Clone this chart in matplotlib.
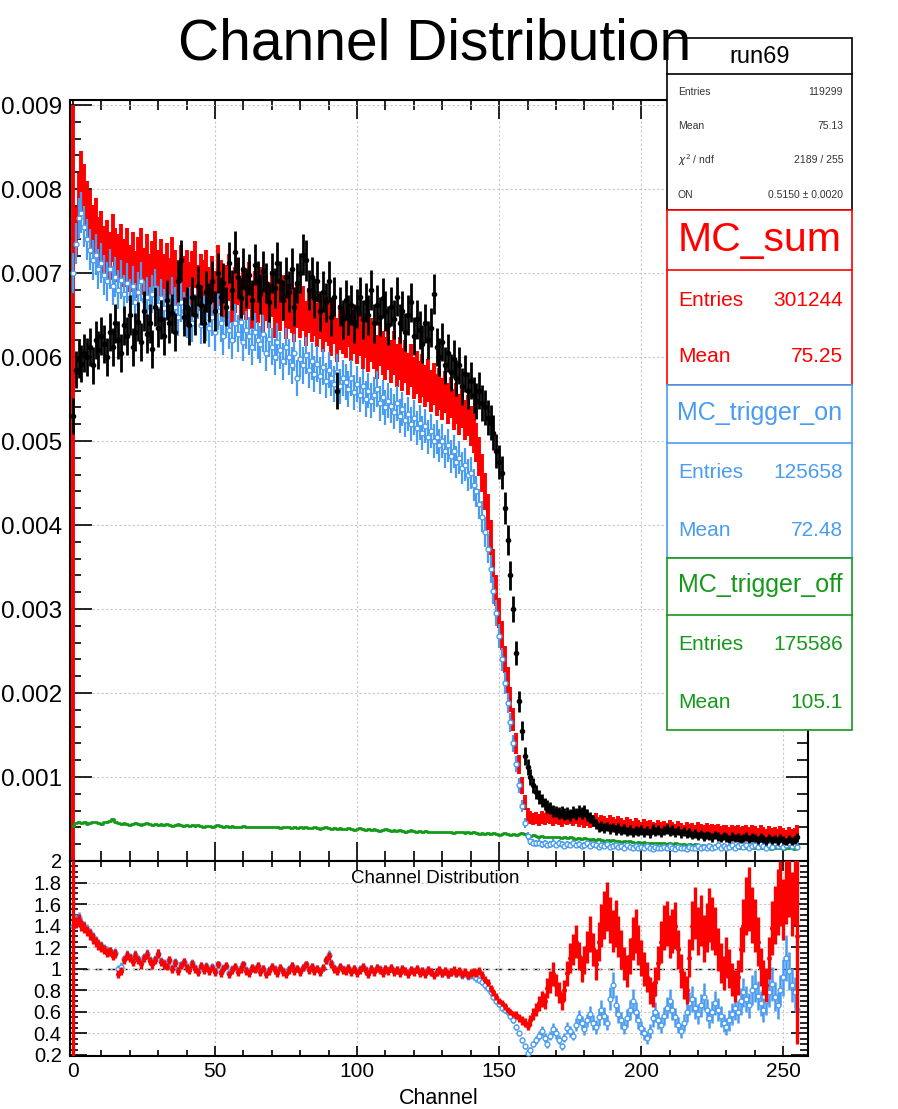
import numpy as np
import matplotlib.pyplot as plt
from matplotlib.patches import Rectangle
from matplotlib.lines import Line2D
from matplotlib.ticker import MultipleLocator, FixedLocator, FixedFormatter

plt.rcParams['font.family'] = ['Liberation Sans', 'DejaVu Sans']

# bin contents per channel (256 channels), normalised, units of 1e-5
data_vals = [
    530, 585, 598, 592, 605, 600, 612, 590, 620, 608, 625, 615, 600, 630, 612, 640,
    620, 605, 638, 625, 650, 612, 630, 642, 618, 655, 628, 640, 610, 660, 635, 645,
    625, 668, 640, 652, 630, 690, 715, 648, 660, 638, 672, 650, 685, 662, 640, 678,
    665, 690, 655, 700, 672, 688, 660, 712, 680, 725, 695, 670, 705, 682, 698, 668,
    710, 690, 675, 702, 688, 665, 700, 682, 712, 690, 668, 695, 678, 705, 660, 688,
    700, 722, 715, 680, 695, 670, 690, 655, 678, 665, 690, 648, 672, 560, 660, 645,
    668, 650, 662, 640, 658, 672, 645, 665, 650, 680, 640, 662, 648, 670, 655, 638,
    660, 645, 672, 640, 655, 630, 650, 665, 625, 645, 632, 615, 640, 620, 635, 675,
    612, 600, 618, 590, 605, 582, 598, 575, 590, 565, 580, 560, 572, 555, 548, 560,
    545, 540, 528, 522, 510, 488, 475, 462, 420, 382, 340, 300, 248, 190, 155, 125,
    112, 100, 90, 82, 76, 72, 68, 65, 63, 60, 59, 57, 58, 56, 57, 55,
    58, 56, 60, 57, 60, 55, 52, 48, 44, 40, 42, 39, 41, 38, 40, 37,
    39, 36, 38, 35, 37, 34, 36, 35, 37, 34, 36, 33, 38, 35, 37, 34,
    36, 38, 35, 37, 34, 36, 33, 35, 32, 34, 31, 33, 30, 32, 29, 31,
    30, 28, 31, 29, 27, 30, 28, 26, 29, 27, 28, 26, 27, 29, 26, 28,
    27, 25, 28, 26, 24, 27, 25, 26, 24, 27, 25, 23, 26, 24, 25, 28,
]
mc_sum_vals = [
    450, 750, 790, 815, 800, 780, 770, 752, 760, 738, 745, 728, 735, 720, 742, 725,
    718, 730, 712, 725, 705, 720, 698, 715, 725, 702, 718, 695, 710, 722, 700, 712,
    695, 708, 690, 715, 700, 688, 705, 692, 700, 685, 698, 710, 682, 695, 688, 700,
    680, 692, 675, 705, 688, 670, 682, 695, 668, 680, 690, 665, 678, 672, 685, 660,
    675, 668, 680, 655, 670, 662, 675, 650, 665, 658, 670, 648, 660, 655, 645, 662,
    650, 658, 640, 655, 645, 652, 638, 648, 632, 645, 640, 628, 642, 620, 635, 630,
    625, 638, 622, 630, 618, 628, 612, 625, 608, 620, 612, 600, 615, 605, 598, 610,
    595, 605, 590, 598, 585, 595, 580, 590, 575, 582, 570, 578, 565, 572, 560, 568,
    555, 562, 550, 558, 545, 552, 538, 545, 532, 540, 525, 530, 518, 510, 498, 482,
    462, 440, 415, 385, 352, 322, 295, 268, 240, 215, 192, 168, 140, 115, 90, 70,
    55, 52, 50, 51, 49, 52, 50, 53, 51, 49, 52, 50, 48, 51, 50, 52,
    49, 51, 48, 50, 47, 49, 46, 48, 50, 45, 47, 46, 44, 47, 45, 43,
    46, 44, 42, 45, 43, 41, 44, 42, 40, 43, 41, 42, 40, 39, 42, 40,
    41, 39, 42, 40, 38, 41, 39, 37, 40, 38, 39, 37, 40, 38, 36, 39,
    37, 38, 36, 38, 35, 37, 36, 34, 37, 35, 36, 34, 35, 37, 34, 36,
    35, 33, 36, 34, 32, 35, 33, 34, 32, 35, 33, 31, 34, 32, 33, 36,
]
mc_on_vals = [
    700, 735, 765, 772, 755, 740, 728, 715, 722, 705, 712, 698, 690, 705, 685, 695,
    680, 692, 675, 688, 670, 685, 665, 678, 690, 668, 672, 660, 675, 682, 662, 670,
    658, 668, 652, 672, 660, 648, 665, 655, 645, 660, 640, 652, 668, 638, 650, 642,
    635, 648, 630, 655, 640, 625, 645, 632, 620, 640, 628, 642, 618, 632, 625, 612,
    630, 620, 615, 628, 605, 622, 612, 600, 618, 608, 595, 612, 600, 590, 605, 575,
    598, 590, 602, 585, 595, 580, 592, 578, 588, 572, 585, 575, 568, 582, 565, 575,
    570, 562, 575, 558, 568, 555, 565, 550, 560, 548, 555, 562, 545, 552, 540, 548,
    542, 535, 545, 530, 538, 525, 532, 520, 528, 515, 522, 510, 518, 505, 512, 500,
    505, 495, 500, 488, 495, 482, 488, 475, 480, 468, 472, 460, 462, 448, 440, 425,
    410, 392, 372, 348, 322, 295, 268, 240, 212, 188, 165, 140, 115, 90, 65, 45,
    30, 24, 22, 21, 22, 20, 21, 19, 20, 22, 19, 21, 20, 18, 20, 19,
    21, 19, 20, 18, 19, 21, 18, 20, 19, 17, 19, 18, 20, 17, 18, 19,
    17, 18, 16, 19, 17, 15, 18, 16, 17, 15, 18, 16, 14, 17, 15, 16,
    17, 15, 18, 16, 14, 17, 15, 16, 14, 17, 15, 16, 18, 15, 17, 16,
    18, 16, 17, 19, 16, 18, 15, 17, 19, 16, 18, 20, 17, 19, 16, 18,
    19, 17, 20, 18, 16, 19, 17, 21, 18, 20, 17, 19, 21, 18, 20, 17,
]
mc_off_vals = [
    42, 45, 46, 45, 46, 44, 45, 47, 46, 45, 44, 46, 47, 48, 50, 47,
    45, 44, 45, 44, 43, 44, 45, 44, 43, 44, 45, 44, 43, 44, 43, 44,
    43, 44, 43, 42, 43, 44, 43, 42, 43, 42, 43, 42, 43, 42, 41, 42,
    42, 41, 42, 43, 42, 41, 42, 41, 42, 41, 40, 41, 42, 41, 40, 41,
    41, 40, 41, 40, 41, 40, 40, 41, 40, 39, 40, 41, 40, 39, 40, 39,
    40, 39, 40, 39, 39, 40, 39, 38, 39, 40, 39, 38, 39, 38, 39, 38,
    38, 39, 38, 37, 38, 39, 38, 37, 38, 37, 38, 37, 36, 37, 38, 37,
    36, 37, 36, 37, 36, 35, 36, 37, 36, 35, 36, 35, 36, 35, 34, 35,
    35, 34, 35, 34, 35, 34, 33, 34, 35, 34, 33, 34, 33, 34, 33, 32,
    33, 32, 33, 32, 33, 32, 31, 32, 33, 32, 31, 32, 31, 32, 33, 32,
    31, 30, 31, 30, 29, 30, 29, 28, 29, 28, 29, 28, 27, 28, 27, 28,
    27, 26, 27, 26, 27, 26, 25, 26, 25, 26, 25, 24, 25, 24, 25, 24,
    24, 23, 24, 23, 24, 23, 22, 23, 22, 23, 22, 21, 22, 21, 22, 21,
    21, 20, 21, 20, 21, 20, 19, 20, 19, 20, 19, 20, 19, 18, 19, 18,
    19, 18, 17, 18, 17, 18, 17, 16, 17, 16, 17, 16, 17, 16, 15, 16,
    16, 15, 16, 15, 16, 15, 14, 15, 16, 15, 14, 15, 16, 15, 14, 15,
]
# ratio panel, units of 0.01
ratio_sum_vals = [
    110, 143, 145, 140, 138, 135, 132, 128, 125, 122, 120, 118, 115, 116, 112, 114,
    95, 98, 108, 112, 110, 106, 112, 108, 104, 110, 113, 107, 104, 108, 114, 106,
    104, 102, 108, 100, 105, 98, 103, 106, 101, 99, 104, 100, 97, 103, 99, 102,
    98, 101, 97, 104, 96, 100, 103, 95, 99, 102, 97, 100, 104, 98, 96, 101,
    99, 103, 97, 100, 95, 98, 102, 99, 96, 101, 97, 95, 99, 103, 98, 100,
    97, 101, 104, 99, 102, 98, 100, 97, 101, 108, 112, 104, 100, 98, 102, 99,
    98, 101, 97, 100, 96, 99, 102, 98, 95, 100, 97, 101, 99, 96, 100, 98,
    101, 97, 99, 96, 100, 98, 95, 99, 97, 100, 96, 98, 95, 99, 97, 94,
    97, 99, 96, 98, 95, 97, 99, 96, 98, 95, 97, 94, 96, 97, 96, 98,
    94, 90, 87, 82, 78, 74, 70, 68, 65, 62, 60, 58, 57, 54, 52, 50,
    47, 52, 58, 62, 68, 72, 70, 82, 88, 95, 85, 78, 70, 80, 96, 110,
    118, 125, 112, 100, 108, 120, 132, 118, 104, 125, 140, 150, 158, 145, 135, 142,
    130, 118, 105, 98, 112, 128, 135, 122, 110, 100, 92, 80, 76, 88, 105, 125,
    138, 142, 130, 135, 140, 118, 98, 85, 80, 110, 140, 152, 135, 145, 128, 138,
    150, 142, 135, 118, 105, 96, 110, 100, 90, 84, 92, 118, 140, 158, 165, 150,
    140, 125, 102, 92, 85, 110, 138, 150, 162, 170, 155, 175, 180, 160, 172, 130,
]
ratio_on_vals = [
    140, 145, 147, 142, 139, 136, 133, 129, 126, 123, 121, 119, 117, 116, 114, 115,
    100, 102, 109, 113, 111, 108, 113, 109, 106, 111, 114, 108, 105, 109, 114, 107,
    105, 103, 108, 101, 106, 99, 104, 106, 102, 100, 105, 101, 98, 103, 100, 103,
    99, 102, 98, 104, 97, 101, 103, 96, 100, 102, 98, 101, 104, 99, 97, 101,
    100, 103, 98, 100, 96, 99, 102, 100, 97, 101, 98, 96, 100, 103, 99, 100,
    98, 101, 104, 100, 102, 99, 100, 98, 101, 108, 113, 105, 101, 99, 102, 100,
    99, 101, 98, 100, 97, 100, 102, 99, 96, 100, 98, 101, 100, 97, 100, 99,
    101, 98, 99, 97, 100, 98, 96, 99, 98, 100, 97, 98, 96, 99, 97, 95,
    97, 99, 96, 98, 95, 97, 98, 96, 97, 94, 96, 93, 94, 93, 91, 90,
    88, 85, 82, 78, 74, 70, 67, 64, 62, 60, 56, 52, 46, 40, 34, 28,
    22, 25, 30, 34, 38, 42, 36, 30, 38, 44, 40, 34, 28, 36, 45, 42,
    38, 48, 55, 50, 44, 52, 58, 50, 46, 55, 62, 56, 50, 72, 85, 66,
    58, 52, 46, 54, 62, 70, 60, 52, 45, 40, 36, 42, 54, 60, 52, 48,
    56, 64, 70, 62, 55, 48, 42, 50, 60, 68, 72, 64, 58, 66, 74, 62,
    54, 60, 68, 62, 56, 50, 46, 52, 58, 64, 60, 70, 78, 72, 66, 80,
    84, 75, 68, 62, 70, 78, 86, 74, 66, 80, 92, 110, 98, 85, 78, 62,
]

N_DATA = 119299
N_SUM = 301244
N_ON = 125658
N_OFF = 175586

RED = '#ff0000'
BLUE = '#4a9cf2'
GREEN = '#14991a'

for arr in (data_vals, mc_sum_vals, mc_on_vals, mc_off_vals, ratio_sum_vals, ratio_on_vals):
    assert len(arr) == 256

ch = np.arange(256)
data = np.array(data_vals) * 1e-5
mc_sum = np.array(mc_sum_vals) * 1e-5
mc_on = np.array(mc_on_vals) * 1e-5
mc_off = np.array(mc_off_vals) * 1e-5
r_sum = np.array(ratio_sum_vals) * 0.01
r_on = np.array(ratio_on_vals) * 0.01

# poisson-like errors
data_err = np.sqrt(data / N_DATA)
sum_err = np.sqrt(mc_sum / 90000)
sum_err[0] = mc_sum[0]
on_err = np.sqrt(mc_on / N_ON)
rel = 1 / np.sqrt(data * N_DATA)
r_sum_err = r_sum * rel
r_on_err = r_on * rel
r_sum_err[0] = 1.0
r_sum_err[-1] = 1.0

W, H = 898, 1109


def fx(x):
    return x / W


def fy(y):
    return 1 - y / H


fig = plt.figure(figsize=(W / 100, H / 100), dpi=100)
ax = fig.add_axes([fx(70), fy(861), fx(808) - fx(70), fy(100) - fy(861)])
rax = fig.add_axes([fx(70), fy(1056), fx(808) - fx(70), fy(861) - fy(1056)])

grid_kw = dict(color='#c8c8c8', lw=0.8, ls=(0, (2, 2)))

# ---- main panel
ax.errorbar(ch, mc_sum, yerr=sum_err, xerr=0.5, fmt='none', ecolor=RED, elinewidth=2.8, zorder=3)
ax.step(ch, mc_off, where='mid', color=GREEN, lw=2, zorder=4)
ax.errorbar(ch, mc_on, yerr=on_err, xerr=0.5, fmt='o', ms=3.5, mfc='white', mec=BLUE,
            mew=1, ecolor=BLUE, elinewidth=1.6, zorder=5)
ax.errorbar(ch, data, yerr=data_err, xerr=0.5, fmt='o', ms=3, color='black',
            elinewidth=2, zorder=6)

ax.set_xlim(-1, 258.7)
ax.set_ylim(0, 0.00906)
ax.xaxis.set_major_locator(MultipleLocator(50))
ax.xaxis.set_minor_locator(MultipleLocator(10))
ax.yaxis.set_major_locator(FixedLocator([0.001 * i for i in range(1, 10)]))
ax.yaxis.set_major_formatter(FixedFormatter(['0.%03d' % i for i in range(1, 10)]))
ax.yaxis.set_minor_locator(MultipleLocator(0.0002))
ax.tick_params(which='both', direction='in', top=True, right=True, labelbottom=False,
               labelsize=17.5, width=1.2, pad=6)
ax.tick_params(which='major', axis='y', length=16)
ax.tick_params(which='minor', axis='y', length=8)
ax.tick_params(which='major', axis='x', length=14)
ax.tick_params(which='minor', axis='x', length=7)
ax.grid(True, which='major', **grid_kw)
for s in ax.spines.values():
    s.set_linewidth(1.5)

# ---- ratio panel
rax.axhline(1, color='black', lw=1, ls=(0, (5, 4)), zorder=1)
rax.errorbar(ch, r_on, yerr=r_on_err, xerr=0.5, fmt='o', ms=3.5, mfc='white', mec=BLUE,
             mew=1, ecolor=BLUE, elinewidth=1.8, zorder=3)
rax.errorbar(ch, r_sum, yerr=r_sum_err, xerr=0.5, fmt='o', ms=2.5, color=RED,
             elinewidth=2.4, zorder=4)
rax.set_xlim(-1, 258.7)
rax.set_ylim(0.19, 2.0)
rax.xaxis.set_major_locator(MultipleLocator(50))
rax.xaxis.set_minor_locator(MultipleLocator(10))
yt = [0.2, 0.4, 0.6, 0.8, 1.0, 1.2, 1.4, 1.6, 1.8, 2.0]
rax.yaxis.set_major_locator(FixedLocator(yt))
rax.yaxis.set_major_formatter(FixedFormatter(['0.2', '0.4', '0.6', '0.8', '1', '1.2', '1.4', '1.6', '1.8', '2']))
rax.yaxis.set_minor_locator(MultipleLocator(0.05))
rax.tick_params(which='both', direction='in', top=True, right=True, width=1.2)
rax.tick_params(axis='y', which='major', length=12, labelsize=14.5, pad=6)
rax.tick_params(axis='y', which='minor', length=6)
rax.tick_params(axis='x', which='major', length=7, labelsize=15, pad=4)
rax.tick_params(axis='x', which='minor', length=4)
rax.grid(True, which='major', **grid_kw)
rax.set_xlabel('Channel', fontsize=15.5, labelpad=5)
for s in rax.spines.values():
    s.set_linewidth(1.5)
rax.text(0.495, 0.91, 'Channel Distribution', transform=rax.transAxes, ha='center', va='center',
         fontsize=13.5)


# ---- stats boxes
def box(y0, y1, color):
    fig.patches.append(Rectangle((fx(667), fy(y1)), fx(852) - fx(667), fy(y0) - fy(y1),
                                 transform=fig.transFigure, facecolor='white',
                                 edgecolor=color, lw=1.2, zorder=10))


def hline(y, color):
    fig.lines.append(Line2D([fx(667), fx(852)], [fy(y), fy(y)], transform=fig.transFigure,
                            color=color, lw=1.2, zorder=11))


def row(y, left, right, color, size):
    fig.text(fx(678), fy(y), left, color=color, fontsize=size, ha='left', va='center', zorder=12)
    fig.text(fx(843), fy(y), right, color=color, fontsize=size, ha='right', va='center', zorder=12)


box(38, 210, 'black')
hline(74, 'black')
fig.text(fx(760), fy(57), 'run69', fontsize=17, ha='center', va='center', zorder=12)
row(92, 'Entries', '119299', '#333333', 7.5)
row(126, 'Mean', '75.13', '#333333', 7.5)
row(160, r'$\chi^2$ / ndf', '2189 / 255', '#333333', 7.5)
row(195, 'ON', '0.5150 ± 0.0020', '#333333', 7.5)

box(210, 385, RED)
hline(270, RED)
fig.text(fx(760), fy(240), 'MC_sum', color=RED, fontsize=29.5, ha='center', va='center', zorder=12)
row(300, 'Entries', '301244', RED, 15)
row(357, 'Mean', '75.25', RED, 15)

box(385, 558, BLUE)
hline(443, BLUE)
fig.text(fx(760), fy(413), 'MC_trigger_on', color=BLUE, fontsize=18, ha='center', va='center', zorder=12)
row(472, 'Entries', '125658', BLUE, 15)
row(530, 'Mean', '72.48', BLUE, 15)

box(558, 730, GREEN)
hline(615, GREEN)
fig.text(fx(760), fy(585), 'MC_trigger_off', color=GREEN, fontsize=18, ha='center', va='center', zorder=12)
row(645, 'Entries', '175586', GREEN, 15)
row(703, 'Mean', '105.1', GREEN, 15)

# ---- title, drawn over the stats box edge
fig.text(fx(435), fy(45), 'Channel Distribution', ha='center', va='center', fontsize=41, zorder=20)

fig.savefig('out.png', dpi=100)
